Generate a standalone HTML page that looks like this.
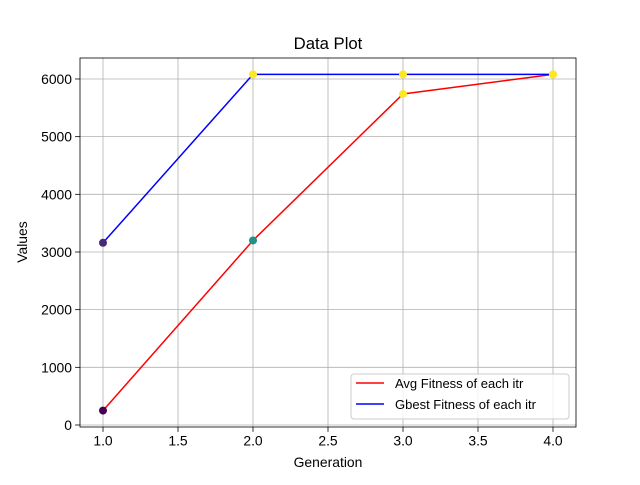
<!DOCTYPE html>
<html><head><meta charset="utf-8"><style>
body{margin:0;background:#fff}
svg text{font-family:"Liberation Sans","DejaVu Sans",sans-serif;fill:#000}
</style></head><body>
<svg id="chart" width="640" height="480" xmlns="http://www.w3.org/2000/svg"></svg>
<script>
const generations=[1,2,3,4];
const avgFitness=[250,3200,5740,6080];
const gbestFitness=[3160,6080,6080,6080];
const avgColors=['#440154','#21918c','#fde725','#fde725'];
const gbestColors=['#482878','#fde725','#fde725','#fde725'];
const xTicks=[1.0,1.5,2.0,2.5,3.0,3.5,4.0];
const xTickLabels=['1.0','1.5','2.0','2.5','3.0','3.5','4.0'];
const yTicks=[0,1000,2000,3000,4000,5000,6000];
const yTickLabels=['0','1000','2000','3000','4000','5000','6000'];

const NS='http://www.w3.org/2000/svg';
const svg=document.getElementById('chart');
const L=80,R=576,T=58,B=427;
const X=v=>103+(v-1)*150;
const Y=v=>425-v*0.05767;
function el(tag,attrs,parent){const e=document.createElementNS(NS,tag);for(const k in attrs)e.setAttribute(k,attrs[k]);(parent||svg).appendChild(e);return e;}

xTicks.forEach((t,i)=>{
  const g=el('line',{x1:X(t),x2:X(t),y1:T,y2:B,stroke:'#b0b0b0','stroke-width':0.8});
  
  
  const tk=el('line',{x1:X(t),x2:X(t),y1:B,y2:B+4.9,stroke:'#000','stroke-width':0.8});
  
  
  const tx=el('text',{x:X(t),y:B+18.5,'text-anchor':'middle','font-size':13.9});
  tx.textContent=xTickLabels[i];
  
  
});
yTicks.forEach((t,i)=>{
  const g=el('line',{x1:L,x2:R,y1:Y(t),y2:Y(t),stroke:'#b0b0b0','stroke-width':0.8});
  
  
  const tk=el('line',{x1:L-4.9,x2:L,y1:Y(t),y2:Y(t),stroke:'#000','stroke-width':0.8});
  
  
  const tx=el('text',{x:L-8,y:Y(t)+5,'text-anchor':'end','font-size':13.9});
  tx.textContent=yTickLabels[i];
  
  
});

function line(vals,color,name){
  const p=el('polyline',{points:generations.map((g,i)=>X(g)+','+Y(vals[i])).join(' '),fill:'none',stroke:color,'stroke-width':1.5});
  
  
}
line(avgFitness,'#ff0000','avg-fitness-line');
line(gbestFitness,'#0000ff','gbest-fitness-line');
function pts(vals,cols,name){
  generations.forEach((g,i)=>{
    const c=el('circle',{cx:X(g),cy:Y(vals[i]),r:4,fill:cols[i]});
    
    
  });
}
pts(avgFitness,avgColors,'avg-fitness-point');
pts(gbestFitness,gbestColors,'gbest-fitness-point');

const frame=el('rect',{x:L,y:T,width:R-L,height:B-T,fill:'none',stroke:'#000','stroke-width':0.8});



const title=el('text',{x:328,y:49,'text-anchor':'middle','font-size':16.7});
title.textContent='Data Plot';


const xt=el('text',{x:328,y:467,'text-anchor':'middle','font-size':13.9});
xt.textContent='Generation';


const yt=el('text',{x:27,y:242,'text-anchor':'middle','font-size':13.9,transform:'rotate(-90 27 242)'});
yt.textContent='Values';



const lg=el('g',{});


el('rect',{x:351,y:374,width:218,height:45,rx:3,fill:'#fff','fill-opacity':0.8,stroke:'#ccc'},lg);
[['Avg Fitness of each itr','#ff0000',388],['Gbest Fitness of each itr','#0000ff',409]].forEach(([t,c,y])=>{
  const e=el('g',{},lg);
  
  
  el('line',{x1:356,x2:384,y1:y-5,y2:y-5,stroke:c,'stroke-width':1.5},e);
  const tx=el('text',{x:395,y:y,'font-size':13},e);
  tx.textContent=t;
});
</script>
</body></html>
